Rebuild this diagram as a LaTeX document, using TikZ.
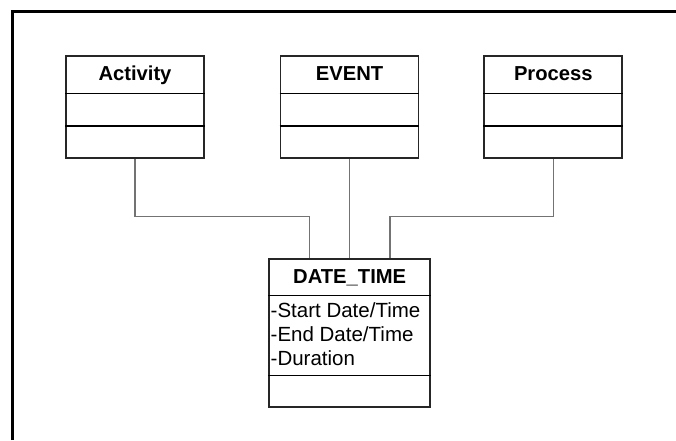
\documentclass[tikz,border=0pt]{standalone}
\usepackage{fontspec}
\setmainfont{Liberation Sans}
\begin{document}
\begin{tikzpicture}[x=1pt,y=-1pt,
  classbox/.style={draw=black!85, line width=1.8pt, minimum width=138pt,
    minimum height=102pt, inner sep=0pt, fill=white},
  divider/.style={line width=1.5pt, black},
  title/.style={font=\fontsize{20.2}{24}\selectfont\bfseries, inner sep=0pt, anchor=base},
  attr/.style={font=\fontsize{20.5}{24}\selectfont, anchor=base west, inner sep=0pt},
  link/.style={draw=black!55, line width=1.2pt},
  framestroke/.style={line width=3pt, black}]
\useasboundingbox (0,0) rectangle (676,440);
\fill[white] (0,0) rectangle (676,440);

% outer frame (left and top edges)
\draw[framestroke] (12.5,440) -- (12.5,11.5) -- (676,11.5);

% class boxes
\node[classbox] (act)  at (135,107) {};
\node[classbox] (evt)  at (349.5,107) {};
\node[classbox] (proc) at (553.3,107) {};
\node[classbox, minimum width=161.3pt, minimum height=148.6pt] (dt) at (349.7,333) {};

% compartment dividers
\foreach \b in {act,evt,proc}{
  \draw[divider] (\b.west |- 0,93.5) -- (\b.east |- 0,93.5);
  \draw[divider] (\b.west |- 0,126) -- (\b.east |- 0,126);
}
\draw[divider] (dt.west |- 0,295.7) -- (dt.east |- 0,295.7);
\draw[divider] (dt.west |- 0,375.3) -- (dt.east |- 0,375.3);

% titles
\node[title] (actname)  at (135,80.7) {Activity};
\node[title] (evtname)  at (349.5,80.7) {EVENT};
\node[title] (procname) at (553.3,80.7) {Process};
\node[title] (dtname)   at (349.7,283.3) {DATE\_TIME};

% attributes
\node[attr] (a1) at (270.5,317.7) {-Start Date/Time};
\node[attr] (a2) at (270.5,341.7) {-End Date/Time};
\node[attr] (a3) at (270.5,365.7) {-Duration};

% connectors
\coordinate (j1) at (309.3,216.5);
\coordinate (j3) at (390,216.5);
\draw[link] (act.south) |- (j1) -- (j1 |- dt.north);
\draw[link] (evt.south) -- (evt.south |- dt.north);
\draw[link] (proc.south) |- (j3) -- (j3 |- dt.north);
\end{tikzpicture}
\end{document}
